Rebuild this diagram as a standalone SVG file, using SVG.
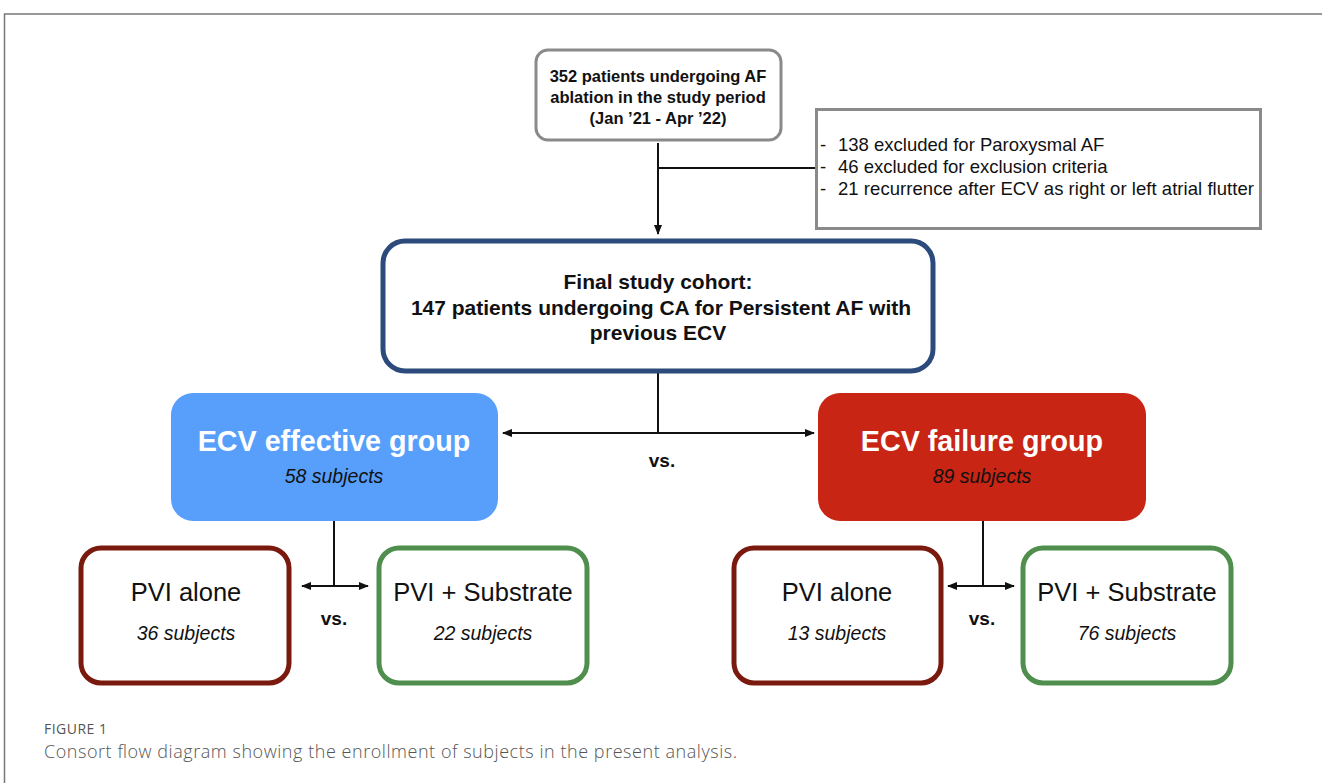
<svg xmlns="http://www.w3.org/2000/svg" width="1322" height="783" viewBox="0 0 1322 783">
<style>
text{font-family:"Liberation Sans",Arial,sans-serif;fill:#111}
.b{font-weight:bold}
.it{font-style:italic;font-size:19.5px}
.gray{fill:#fff;stroke:#8a8a8a;stroke-width:3}
.pvi{fill:#fff;stroke:#7a1a0e;stroke-width:5}
.sub{fill:#fff;stroke:#4f8e4d;stroke-width:5}
.ln{stroke:#111;stroke-width:2;fill:none}
.cap{font-family:"Open Sans","Liberation Sans",sans-serif;fill:#555}
.big{font-size:25.5px}
</style>
<defs>
<marker id="ah" viewBox="0 0 10 10" refX="9" refY="5" markerWidth="10" markerHeight="10" markerUnits="userSpaceOnUse" orient="auto-start-reverse">
<path d="M0,1 L10,5 L0,9 z" fill="#111"/>
</marker>
</defs>
<rect width="1322" height="783" fill="#fff"/>
<path d="M4.5,783 V14 H1322" fill="none" stroke="#777" stroke-width="1.5"/>
<g id="connectors">
<path class="ln" d="M658,143 V234" marker-end="url(#ah)"/>
<path class="ln" d="M658,168 H816"/>
<path class="ln" d="M658,373 V433"/>
<path class="ln" d="M503,433 H814" marker-start="url(#ah)" marker-end="url(#ah)"/>
<path class="ln" d="M334,521 V586"/>
<path class="ln" d="M302,586 H368" marker-start="url(#ah)" marker-end="url(#ah)"/>
<path class="ln" d="M983,521 V586"/>
<path class="ln" d="M948,586 H1014" marker-start="url(#ah)" marker-end="url(#ah)"/>
</g>
<g id="start">
<rect class="gray" x="536" y="50" width="245" height="90" rx="12"/>
<text class="b" x="658" y="82" text-anchor="middle" font-size="16.5">352 patients undergoing AF</text>
<text class="b" x="658" y="103" text-anchor="middle" font-size="16.5">ablation in the study period</text>
<text class="b" x="658" y="124" text-anchor="middle" font-size="16.5">(Jan ’21 - Apr ’22)</text>
</g>
<g id="excluded">
<rect class="gray" x="816.5" y="109.5" width="444" height="119"/>
<g font-size="18.5">
<text x="820" y="151">-</text><text x="838" y="151">138 excluded for Paroxysmal AF</text>
<text x="820" y="173">-</text><text x="838" y="173">46 excluded for exclusion criteria</text>
<text x="820" y="195">-</text><text x="838" y="195" textLength="416">21 recurrence after ECV as right or left atrial flutter</text>
</g>
</g>
<g id="cohort">
<rect x="383" y="241" width="550" height="130" rx="22" fill="#fff" stroke="#2c4b7c" stroke-width="5"/>
<text class="b" x="658" y="289" text-anchor="middle" font-size="21">Final study cohort:</text>
<text class="b" x="661" y="315" text-anchor="middle" font-size="21">147 patients undergoing CA for Persistent AF with</text>
<text class="b" x="658" y="340" text-anchor="middle" font-size="21">previous ECV</text>
</g>
<text class="b" x="662" y="467" text-anchor="middle" font-size="19">vs.</text>
<g id="effective">
<rect x="171" y="393" width="327" height="128" rx="22" fill="#589ffc"/>
<text class="b" x="334" y="451" text-anchor="middle" font-size="28.7" style="fill:#fff">ECV effective group</text>
<text class="it" x="334" y="483" text-anchor="middle">58 subjects</text>
</g>
<g id="failure">
<rect x="818" y="393" width="328" height="128" rx="22" fill="#c82514"/>
<text class="b" x="982" y="451" text-anchor="middle" font-size="28.7" style="fill:#fff">ECV failure group</text>
<text class="it" x="982" y="483" text-anchor="middle">89 subjects</text>
</g>
<g id="pvi-left">
<rect class="pvi" x="81" y="548" width="208" height="135" rx="20"/>
<text class="big" x="186" y="601" text-anchor="middle">PVI alone</text>
<text class="it" x="186" y="640" text-anchor="middle">36 subjects</text>
</g>
<g id="sub-left">
<rect class="sub" x="379" y="548" width="208" height="135" rx="20"/>
<text class="big" x="483" y="601" text-anchor="middle">PVI + Substrate</text>
<text class="it" x="483" y="640" text-anchor="middle">22 subjects</text>
</g>
<text class="b" x="334" y="625" text-anchor="middle" font-size="19">vs.</text>
<g id="pvi-right">
<rect class="pvi" x="734" y="548" width="207" height="135" rx="20"/>
<text class="big" x="837" y="601" text-anchor="middle">PVI alone</text>
<text class="it" x="837" y="640" text-anchor="middle">13 subjects</text>
</g>
<g id="sub-right">
<rect class="sub" x="1023" y="548" width="208" height="135" rx="20"/>
<text class="big" x="1127" y="601" text-anchor="middle">PVI + Substrate</text>
<text class="it" x="1127" y="640" text-anchor="middle">76 subjects</text>
</g>
<text class="b" x="982" y="625" text-anchor="middle" font-size="19">vs.</text>
<text class="cap" x="44" y="734" font-size="14" textLength="63">FIGURE 1</text>
<text class="cap" x="44" y="758" font-size="18" font-weight="300" textLength="693">Consort flow diagram showing the enrollment of subjects in the present analysis.</text>
</svg>
